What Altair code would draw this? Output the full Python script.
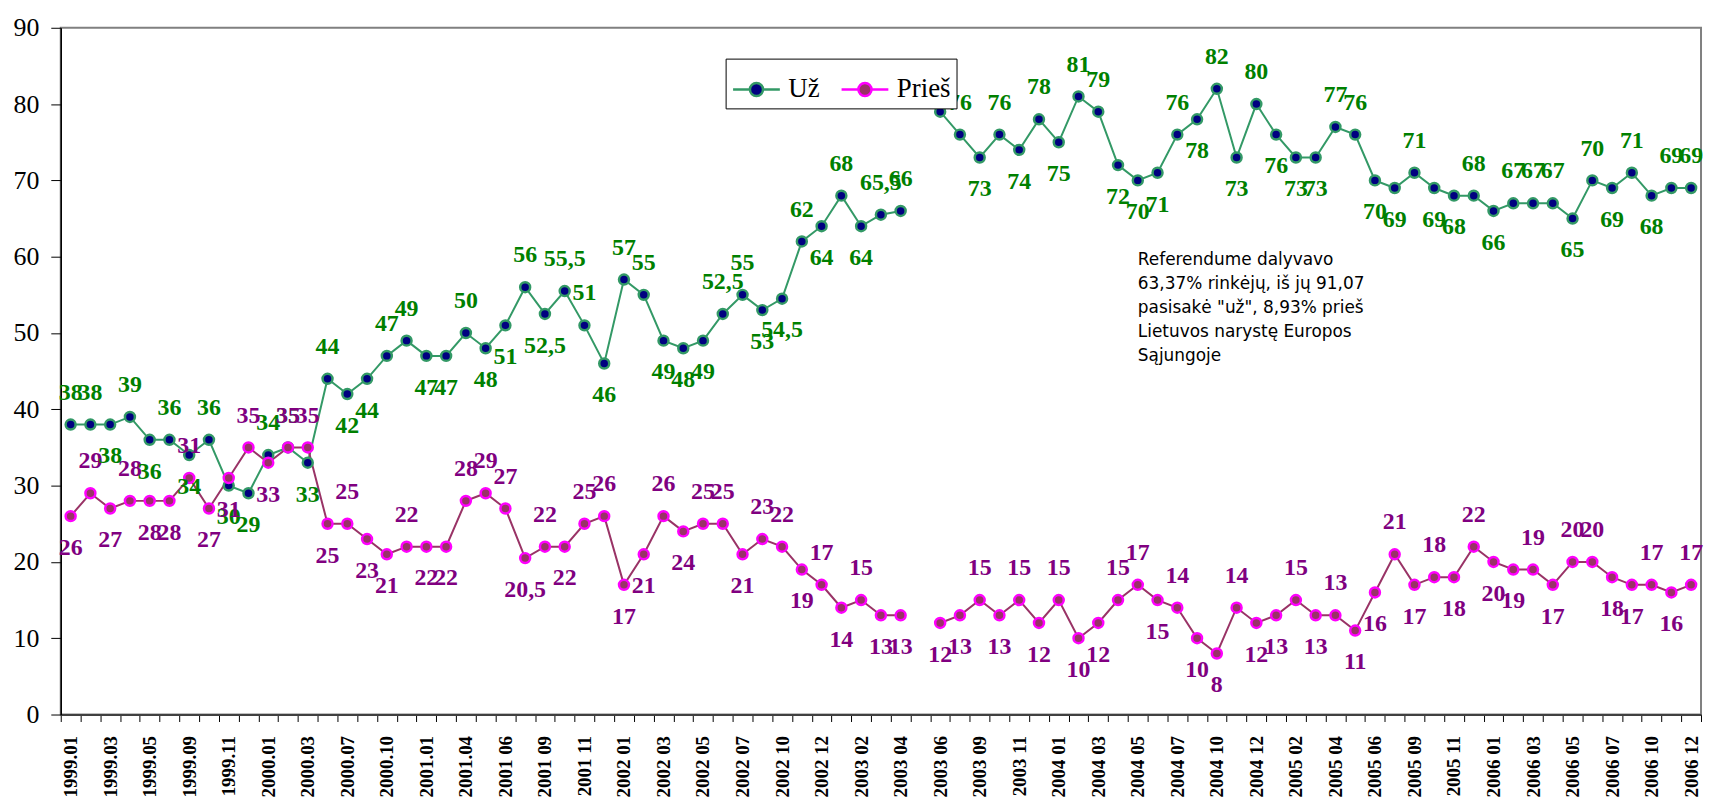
import json
import altair as alt
import pandas as pd

# ---- data ----
months = [
    "1999.01", "1999.02", "1999.03", "1999.04", "1999.05", "1999.07", "1999.09", "1999.10",
    "1999.11", "1999.12", "2000.01", "2000.02", "2000.03", "2000.05", "2000.07", "2000.09",
    "2000.10", "2000.12", "2001.01", "2001.03", "2001.04", "2001 05", "2001 06", "2001 07",
    "2001 09", "2001 10", "2001 11", "2001 12", "2002 01", "2002 02", "2002 03", "2002 04",
    "2002 05", "2002 06", "2002 07", "2002 09", "2002 10", "2002 11", "2002 12", "2003 01",
    "2003 02", "2003 03", "2003 04", "2003 05", "2003 06", "2003 07", "2003 09", "2003 10",
    "2003 11", "2003 12", "2004 01", "2004 02", "2004 03", "2004 04", "2004 05", "2004 06",
    "2004 07", "2004 09", "2004 10", "2004 11", "2004 12", "2005 01", "2005 02", "2005 03",
    "2005 04", "2005 05", "2005 06", "2005 07", "2005 09", "2005 10", "2005 11", "2005 12",
    "2006 01", "2006 02", "2006 03", "2006 04", "2006 05", "2006 06", "2006 07", "2006 09",
    "2006 10", "2006 11", "2006 12",
]
shown_months = months[::2]

uz = [38, 38, 38, 39, 36, 36, 34, 36, 30, 29, 34, 35, 33,
      44, 42, 44, 47, 49, 47, 47,
      50, 48, 51, 56, 52.5, 55.5, 51, 46, 57, 55, 49, 48, 49, 52.5, 55, 53, 54.5,
      62, 64, 68, 64, 65.5, 66,
      None,
      79, 76, 73, 76, 74, 78, 75, 81, 79, 72, 70, 71, 76, 78, 82, 73, 80, 76,
      73, 73, 77, 76, 70, 69, 71, 69, 68, 68, 66, 67, 67, 67, 65, 70, 69, 71, 68, 69, 69]

pries = [26, 29, 27, 28, 28, 28, 31, 27, 31, 35, 33, 35, 35, 25, 25,
         23, 21, 22, 22, 22, 28, 29, 27, 20.5, 22, 22, 25, 26, 17, 21, 26, 24, 25, 25,
         21, 23, 22, 19, 17, 14, 15, 13, 13,
         None,
         12, 13, 15, 13, 15, 12, 15, 10, 12, 15, 17, 15, 14, 10, 8, 14, 12, 13,
         15, 13, 13, 11, 16, 21, 17, 18, 18, 22, 20, 19, 19, 17, 20, 20, 18, 17, 17, 16, 17]

series_names = ["Už", "Prieš"]
break_month = "2003 05"

note_lines = [
    "Referendume dalyvavo",
    "63,37% rinkėjų, iš jų 91,07",
    "pasisakė \"už\", 8,93% prieš",
    "Lietuvos narystę Europos",
    "Sąjungoje",
]
note_month = "2004 05"
note_value = 60.6

# ---- long table ----
rows = []
brk = months.index(break_month)
for s, vals in zip(series_names, [uz, pries]):
    for i, v in enumerate(vals):
        if v is None:
            continue
        neigh = [w for w in (vals[i - 1] if i > 0 else None,
                             vals[i + 1] if i + 1 < len(vals) else None) if w is not None]
        m = sum(neigh) / len(neigh) if neigh else v
        up = (v >= m) if s == "Už" else (v > m)
        rows.append(dict(month=months[i], series=s, value=v,
                         part=0 if i < brk else 1, up=up,
                         label=f"{v:g}".replace(".", ",")))
df = pd.DataFrame(rows)

SERIF = "Liberation Serif"

label_expr = f"indexof({json.dumps(shown_months)}, datum.value) >= 0 ? datum.label : ''"

x = alt.X(
    "month:O",
    scale=alt.Scale(domain=months, paddingInner=0, paddingOuter=0),
    axis=alt.Axis(title=None, labelExpr=label_expr, labelAngle=270, labelAlign="right",
                  labelBaseline="middle", labelFont=SERIF, labelFontWeight="bold",
                  labelFontSize=19, labelColor="black", labelOverlap=False,
                  labelPadding=14, tickBand="extent", tickSize=7, tickColor="black",
                  domainColor="#404040", domainWidth=2),
)
y = alt.Y(
    "value:Q", scale=alt.Scale(domain=[0, 90], nice=False),
    axis=alt.Axis(title=None, values=list(range(0, 91, 10)), grid=False,
                  labelFont=SERIF, labelFontSize=26, labelColor="black", labelPadding=12,
                  tickSize=10, tickColor="black", domainColor="black", domainWidth=1.5),
)

line = alt.Chart(df).mark_line(strokeWidth=2).encode(
    x=x, y=y,
    color=alt.Color("series:N", scale=alt.Scale(domain=series_names, range=["#339966", "#993366"]),
                    legend=None),
    detail="part:N",
)

legend = alt.Legend(title=None)
pts = alt.Chart(df).mark_circle(size=100, strokeWidth=2.5, opacity=1).encode(
    x=x, y=y,
    fill=alt.Fill("series:N", scale=alt.Scale(domain=series_names, range=["#000080", "#993366"]),
                  legend=legend),
    stroke=alt.Stroke("series:N", scale=alt.Scale(domain=series_names, range=["#339966", "#FF00FF"]),
                      legend=legend),
)

text_color = alt.Color("series:N", scale=alt.Scale(domain=series_names, range=["#008000", "#800080"]),
                       legend=None)
lab_up = alt.Chart(df).transform_filter("datum.up").mark_text(
    dy=-32, font=SERIF, fontWeight="bold", fontSize=24
).encode(x=x, y=y, text="label:N", color=text_color)
lab_dn = alt.Chart(df).transform_filter("!datum.up").mark_text(
    dy=32, font=SERIF, fontWeight="bold", fontSize=24
).encode(x=x, y=y, text="label:N", color=text_color)

note = alt.Chart(pd.DataFrame({"note": ["\n".join(note_lines)]})).mark_text(
    align="left", baseline="top", font="DejaVu Sans", fontSize=17, lineHeight=24,
    lineBreak="\n", color="black"
).encode(x=alt.X(datum=note_month), y=alt.Y(datum=note_value), text="note:N")

sym = "M-1,0L-0.3,0M0.3,0L1,0M0.28,0A0.28,0.28,0,1,1,-0.28,0A0.28,0.28,0,1,1,0.28,0Z"

chart = (
    alt.layer(line, pts, lab_up, lab_dn, note)
    .resolve_scale(color="independent")
    .properties(width=1648, height=690,
                padding={"left": 5, "top": 5, "right": 0, "bottom": 0})
    .configure_view(stroke="#808080", strokeWidth=2)
    .configure_legend(orient="none", legendX=668, legendY=31, direction="horizontal",
                      symbolType=sym, symbolSize=2209, symbolStrokeWidth=2.5,
                      labelFont=SERIF, labelFontSize=27, labelColor="black",
                      labelOffset=7, columnPadding=16, padding=6,
                      strokeColor="black", fillColor="white")
)

chart.save("out.html", embed_options={"renderer": "svg", "actions": False})
